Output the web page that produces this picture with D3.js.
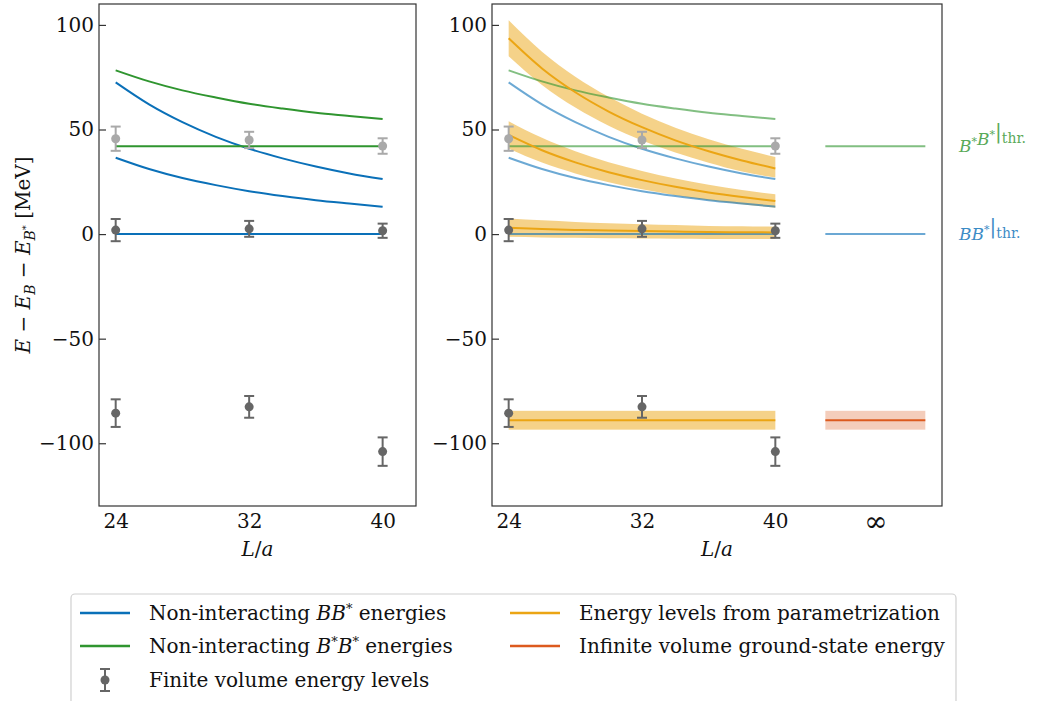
<!DOCTYPE html>
<html><head><meta charset="utf-8">
<script src="https://cdn.jsdelivr.net/npm/d3@7"></script>
<style>body{margin:0;background:#fff}svg{display:block}text{font-family:"DejaVu Serif",serif}</style>
</head><body><svg id="c" width="1038" height="701"></svg>
<script>
// ---------- data ----------
const Lgrid = [24, 26, 28, 30, 32, 34, 36, 38, 40];
const bbThr = 0, bsbsThr = 42;
const bbN1 = [36.5, 31.1, 26.8, 23.4, 20.5, 18.2, 16.2, 14.6, 13.1];
const bbN2 = [72.5, 62.0, 53.5, 46.5, 40.8, 36.2, 32.3, 29.0, 26.3];
const bsbsN1 = [78.3, 73.0, 68.7, 65.3, 62.3, 60.0, 58.0, 56.5, 55.0];
const lvl3 = [93.6, 79.2, 67.8, 58.6, 51.1, 44.8, 39.6, 35.2, 31.4];
const lvl3hi = [102.2, 87.2, 75.2, 65.6, 57.5, 50.8, 45.3, 40.8, 36.8];
const lvl3lo = [85.0, 71.3, 60.5, 51.8, 44.8, 39.0, 34.1, 29.9, 27.0];
const lvl2 = [47.4, 40.1, 34.3, 29.6, 25.8, 22.6, 19.9, 17.7, 15.8];
const lvl2hi = [54.0, 46.0, 39.6, 34.4, 30.2, 26.6, 23.6, 21.1, 19.0];
const lvl2lo = [40.8, 34.2, 29.0, 24.8, 21.4, 18.6, 16.2, 14.3, 12.6];
const lvl1 = [3.0, 2.4, 2.0, 1.7, 1.5, 1.2, 1.0, 0.9, 0.8];
const lvl1hi = [7.5, 6.6, 5.8, 5.2, 4.7, 4.3, 3.9, 3.7, 3.5];
const lvl1lo = [-1.3, -1.6, -1.8, -2.0, -2.1, -2.2, -2.3, -2.4, -2.4];
const bound = -89, boundErr = 4.5;
const infRange = [43, 49];
const ptsL = [24, 32, 40];
const ptsLight = [45.6, 45.0, 42.1], ptsLightErr = [5.8, 3.9, 3.7];
const ptsDark1 = [1.9, 2.5, 1.6], ptsDark1Err = [5.3, 3.8, 3.4];
const ptsDark0 = [-85.6, -82.6, -104.0], ptsDark0Err = [6.6, 5.2, 6.8];
const yTicks = [-100, -50, 0, 50, 100];
const xTicksL = [24, 32, 40];
const xTicksR = [24, 32, 40, 46];
const xTickLabR = ["24", "32", "40", "\u221E"];

// ---------- style ----------
const FONT = '"DejaVu Serif", serif';
const C = {blue:"#0a70b8", green:"#2f952f", orange:"#eba514", red:"#dc5a1e", dark:"#666666", light:"#a9a9a9"};
const svg = d3.select("#c");
const pTop = 4, pBottom = 506;
const y = d3.scaleLinear().domain([-130, 110]).range([pBottom, pTop]);
const xL = d3.scaleLinear().domain([23, 42]).range([99, 416]);
const xR = d3.scaleLinear().domain([23, 50]).range([492, 942]);
const FS = 20;

function fmt(v){ return v < 0 ? "\u2212" + Math.abs(v) : String(v); }

function line(x, vals, color, op){
  return (g) => g.append("path").datum(Lgrid.map((L,i)=>[L, vals[i]]))
    .attr("d", d3.line().x(d=>x(d[0])).y(d=>y(d[1])).curve(d3.curveMonotoneX))
    .attr("fill","none").attr("stroke",color).attr("stroke-width",2).attr("opacity",op);
}
function hline(g, x, x0, x1, v, color, op){
  g.append("line").attr("x1",x(x0)).attr("x2",x(x1)).attr("y1",y(v)).attr("y2",y(v))
   .attr("stroke",color).attr("stroke-width",2).attr("opacity",op);
}
function band(g, x, lo, hi, color, op){
  g.append("path").datum(Lgrid.map((L,i)=>[L, lo[i], hi[i]]))
   .attr("d", d3.area().x(d=>x(d[0])).y0(d=>y(d[1])).y1(d=>y(d[2])).curve(d3.curveMonotoneX))
   .attr("fill",color).attr("opacity",op).attr("stroke","none");
}
function points(g, x, vals, errs, color){
  vals.forEach((v,i)=>{
    const cx = x(ptsL[i]);
    g.append("line").attr("x1",cx).attr("x2",cx).attr("y1",y(v-errs[i])).attr("y2",y(v+errs[i])).attr("stroke",color).attr("stroke-width",2);
    [v-errs[i], v+errs[i]].forEach(e=>g.append("line").attr("x1",cx-5).attr("x2",cx+5).attr("y1",y(e)).attr("y2",y(e)).attr("stroke",color).attr("stroke-width",2));
    g.append("circle").attr("cx",cx).attr("cy",y(v)).attr("r",4.5).attr("fill",color);
  });
}
function frame(x, ticks, labels){
  const g = svg.append("g");
  const [x0,x1] = x.range();
  g.append("rect").attr("x",x0).attr("y",pTop).attr("width",x1-x0).attr("height",pBottom-pTop)
   .attr("fill","none").attr("stroke","#333").attr("stroke-width",1.2);
  const ya = d3.axisLeft(y).tickValues(yTicks).tickSize(-7).tickFormat(fmt).tickPadding(5);
  const ag = g.append("g").attr("transform",`translate(${x0},0)`).call(ya).attr("font-family",FONT);
  ag.select(".domain").remove();
  ag.selectAll(".tick line").attr("stroke","#333").attr("stroke-width",1.2);
  ag.selectAll("text").attr("font-size",FS).attr("fill","#111");
  const xa = d3.axisBottom(x).tickValues(ticks).tickSize(0).tickPadding(8).tickFormat((d,i)=>labels[i]);
  const bg = g.append("g").attr("transform",`translate(0,${pBottom})`).call(xa).attr("font-family",FONT);
  bg.select(".domain").remove();
  bg.selectAll("text").attr("font-size",d=> d===46 ? 28 : FS).attr("dy", d=> d===46 ? "0.6em" : "0.71em").attr("fill","#111");
  const t = g.append("text").attr("x",(x0+x1)/2).attr("y",556).attr("text-anchor","middle").attr("font-size",FS).attr("fill","#111");
  t.append("tspan").attr("font-style","italic").text("L");
  t.append("tspan").text("/");
  t.append("tspan").attr("font-style","italic").text("a");
  return g;
}

// ---------- left panel ----------
const gL = svg.append("g");
hline(gL, xL, 24, 40, bbThr, C.blue, 1);
line(xL, bbN1, C.blue, 1)(gL);
line(xL, bbN2, C.blue, 1)(gL);
hline(gL, xL, 24, 40, bsbsThr, C.green, 1);
line(xL, bsbsN1, C.green, 1)(gL);
points(gL, xL, ptsLight, ptsLightErr, C.light);
points(gL, xL, ptsDark1, ptsDark1Err, C.dark);
points(gL, xL, ptsDark0, ptsDark0Err, C.dark);
frame(xL, xTicksL, xTicksL.map(String));

// ---------- right panel ----------
const gR = svg.append("g");
band(gR, xR, lvl3lo, lvl3hi, C.orange, 0.5);
band(gR, xR, lvl2lo, lvl2hi, C.orange, 0.5);
band(gR, xR, lvl1lo, lvl1hi, C.orange, 0.5);
gR.append("rect").attr("x",xR(24)).attr("width",xR(40)-xR(24))
  .attr("y",y(bound+boundErr)).attr("height",y(bound-boundErr)-y(bound+boundErr)).attr("fill",C.orange).attr("opacity",0.5);
gR.append("rect").attr("x",xR(infRange[0])).attr("width",xR(infRange[1])-xR(infRange[0]))
  .attr("y",y(bound+boundErr)).attr("height",y(bound-boundErr)-y(bound+boundErr)).attr("fill",C.red).attr("opacity",0.3);
hline(gR, xR, 24, 40, bbThr, C.blue, 0.6);
line(xR, bbN1, C.blue, 0.6)(gR);
line(xR, bbN2, C.blue, 0.6)(gR);
hline(gR, xR, 24, 40, bsbsThr, C.green, 0.6);
line(xR, bsbsN1, C.green, 0.6)(gR);
hline(gR, xR, infRange[0], infRange[1], bbThr, C.blue, 0.6);
hline(gR, xR, infRange[0], infRange[1], bsbsThr, C.green, 0.6);
line(xR, lvl3, C.orange, 1)(gR);
line(xR, lvl2, C.orange, 1)(gR);
line(xR, lvl1, C.orange, 1)(gR);
hline(gR, xR, 24, 40, bound, C.orange, 1);
hline(gR, xR, infRange[0], infRange[1], bound, C.red, 1);
points(gR, xR, ptsLight, ptsLightErr, C.light);
points(gR, xR, ptsDark1, ptsDark1Err, C.dark);
points(gR, xR, ptsDark0, ptsDark0Err, C.dark);
frame(xR, xTicksR, xTickLabR);

// threshold labels
function thrLabel(v, stars, color){
  const t = svg.append("text").attr("x",959).attr("y",y(v)+6).attr("font-size",17).attr("fill",color).attr("opacity",0.8);
  stars.forEach(p=>{
    t.append("tspan").attr("font-style","italic").text("B");
    if(p){ t.append("tspan").attr("font-size",11).attr("dy",-7).text("*"); t.append("tspan").attr("dy",7).text(""); }
  });
  t.append("tspan").attr("font-size",20).text("|");
  t.append("tspan").attr("font-size",14).attr("dy",5).text("thr.");
}
thrLabel(bsbsThr, [true,true], C.green);
thrLabel(bbThr, [false,true], C.blue);

// y label
const yl = svg.append("text").attr("transform",`translate(30,${(pTop+pBottom)/2}) rotate(-90)`).attr("text-anchor","middle").attr("font-size",FS).attr("fill","#111");
yl.append("tspan").attr("font-style","italic").text("E");
yl.append("tspan").text(" \u2212 ");
yl.append("tspan").attr("font-style","italic").text("E");
yl.append("tspan").attr("font-style","italic").attr("font-size",14).attr("dy",5).text("B");
yl.append("tspan").attr("dy",-5).text(" \u2212 ");
yl.append("tspan").attr("font-style","italic").text("E");
yl.append("tspan").attr("font-style","italic").attr("font-size",14).attr("dy",5).text("B");
yl.append("tspan").attr("font-size",10).attr("dy",-6).text("*");
yl.append("tspan").attr("dy",1).text(" [MeV]");

// ---------- legend ----------
const lg = svg.append("g");
lg.append("rect").attr("x",71).attr("y",594).attr("width",885).attr("height",130).attr("rx",4)
  .attr("fill","#fff").attr("stroke","#d0d0d0").attr("stroke-width",1.2);
const legItems = [
  {c:C.blue, col:0, row:0, parts:[["Non-interacting ",0],["B",1],["B",1],["*",2],[" energies",0]]},
  {c:C.green, col:0, row:1, parts:[["Non-interacting ",0],["B",1],["*",2],["B",1],["*",2],[" energies",0]]},
  {c:"pt", col:0, row:2, parts:[["Finite volume energy levels",0]]},
  {c:C.orange, col:1, row:0, parts:[["Energy levels from parametrization",0]]},
  {c:C.red, col:1, row:1, parts:[["Infinite volume ground-state energy",0]]}
];
const rowY = [613, 646, 680], colX = [80, 510], textX = [149, 579];
legItems.forEach(it=>{
  const yy = rowY[it.row], x0 = colX[it.col];
  if(it.c === "pt"){
    const cx = x0+25;
    lg.append("line").attr("x1",cx).attr("x2",cx).attr("y1",yy-11).attr("y2",yy+11).attr("stroke",C.dark).attr("stroke-width",2);
    [yy-11, yy+11].forEach(e=>lg.append("line").attr("x1",cx-5).attr("x2",cx+5).attr("y1",e).attr("y2",e).attr("stroke",C.dark).attr("stroke-width",2));
    lg.append("circle").attr("cx",cx).attr("cy",yy).attr("r",4.5).attr("fill",C.dark);
  } else {
    lg.append("line").attr("x1",x0).attr("x2",x0+50).attr("y1",yy).attr("y2",yy).attr("stroke",it.c).attr("stroke-width",2.5);
  }
  const t = lg.append("text").attr("x",textX[it.col]).attr("y",yy+7).attr("font-size",FS).attr("fill","#111");
  let sup = false;
  it.parts.forEach(([s,k])=>{
    const sp = t.append("tspan").text(s);
    if(k===1){ sp.attr("font-style","italic"); if(sup){sp.attr("dy",7); sup=false;} }
    else if(k===2){ sp.attr("font-size",13).attr("dy",-7); sup=true; }
    else if(sup){ sp.attr("dy",7); sup=false; }
  });
});
</script></body></html>
